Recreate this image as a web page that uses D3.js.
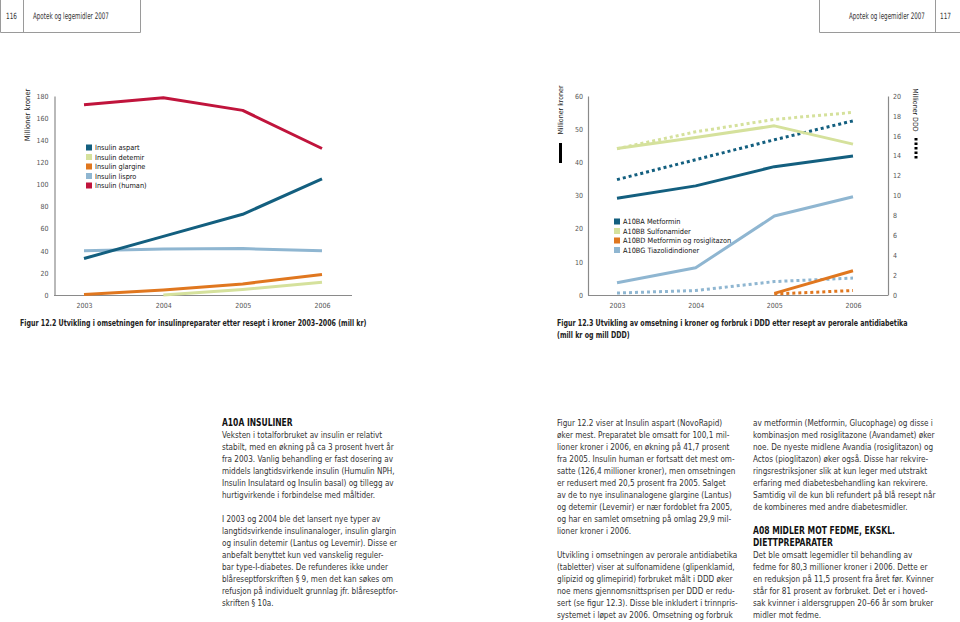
<!DOCTYPE html>
<html><head><meta charset="utf-8">
<script src="https://cdn.jsdelivr.net/npm/d3@7"></script>
<style>
body{margin:0;background:#fff;}
svg{display:block;}
text{font-family:"DejaVu Sans Condensed","DejaVu Sans",sans-serif;}
</style></head><body>
<svg id="c" width="960" height="622"></svg>
<script>
// ---------- DATA ----------
const years = [2003, 2004, 2005, 2006];

// Figur 12.2 (mill kr)
const insulinNames = ["Insulin aspart", "Insulin detemir", "Insulin glargine", "Insulin lispro", "Insulin (human)"];
const insulinAspart   = [33, 53, 73, 105];
const insulinDetemir  = [null, 0, 5, 11.5];
const insulinGlargine = [0.5, 4.5, 10, 18.5];
const insulinLispro   = [40, 41.5, 42, 40];
const insulinHuman    = [172, 178.5, 167, 132.5];
const insulinTicks = [0, 20, 40, 60, 80, 100, 120, 140, 160, 180];

// Figur 12.3 (mill kr solid, mill DDD dotted)
const oralNames = ["A10BA Metformin", "A10BB Sulfonamider", "A10BD Metformin og rosiglitazon", "A10BG Tiazolidindioner"];
const krMetformin     = [29.2, 32.9, 38.7, 41.9];
const krSulfonamider  = [44.2, 47.5, 51, 45.5];
const krMetRosi       = [null, null, 0.5, 7.3];
const krTiazo         = [3.7, 8.2, 23.8, 29.6];
const dddMetformin    = [11.6, 13.6, 15.6, 17.5];
const dddSulfonamider = [14.7, 16.4, 17.65, 18.35];
const dddMetRosi      = [null, null, 0.1, 0.45];
const dddTiazo        = [0.2, 0.45, 1.35, 1.7];
const krTicks  = [0, 10, 20, 30, 40, 50, 60];
const dddTicks = [0, 2, 4, 6, 8, 10, 12, 14, 16, 18, 20];

// ---------- STYLE ----------
const C = {teal:"#135f7f", pale:"#d5e19c", orange:"#e0771f", blue:"#8fb6d1", red:"#c0143c"};
const axisCol = "#8a8a8a", tickCol = "#555";

const svg = d3.select("#c");

// squeeze a group horizontally so its widest text equals maxW (condensed typeface look)
function fitGroup(g, x0, maxW) {
  let w = 0;
  g.selectAll("text").each(function(){ w = Math.max(w, this.getComputedTextLength()); });
  const k = w > 0 ? maxW / w : 1;
  g.attr("transform", `translate(${x0},0) scale(${k},1) translate(${-x0},0)`);
}

// ---------- HEADER ----------
const hdr = svg.append("g").attr("stroke", "#9a9a9a").attr("stroke-width", 1).attr("fill", "none");
hdr.append("path").attr("d", "M0.5,0V32.5H140.5V0M23.5,0V32.5");
hdr.append("path").attr("d", "M819.5,0V32.5H960M935.5,0V32.5");
const p1 = svg.append("g").attr("font-size", 8.5).attr("fill", "#333");
p1.append("text").attr("x", 6).attr("y", 19).text("116");
fitGroup(p1, 6, 11);
const p2 = svg.append("g").attr("font-size", 8.5).attr("fill", "#333");
p2.append("text").attr("x", 940).attr("y", 19).text("117");
fitGroup(p2, 940, 11);
const h1 = svg.append("g").attr("font-size", 9).attr("fill", "#333");
h1.append("text").attr("x", 33).attr("y", 19).text("Apotek og legemidler 2007");
fitGroup(h1, 33, 76);
const h2 = svg.append("g").attr("font-size", 9).attr("fill", "#333");
h2.append("text").attr("x", 849).attr("y", 19).text("Apotek og legemidler 2007");
fitGroup(h2, 849, 76);

function styleAxis(g){
  g.selectAll(".domain").attr("stroke", axisCol).attr("stroke-width", 1.2);
  g.selectAll("text").attr("font-size", 7).attr("fill", tickCol).attr("font-family", "'DejaVu Sans Condensed',sans-serif");
}

// ---------- CHART 1 ----------
{
  const x = d3.scaleLinear().domain([2003, 2006]).range([84, 322]);
  const y = d3.scaleLinear().domain([0, 180]).range([295, 96]);
  const g = svg.append("g");
  g.append("g").attr("transform", "translate(54.5,0)")
    .call(d3.axisLeft(y).tickValues(insulinTicks).tickSize(0).tickPadding(6))
    .call(styleAxis);
  g.append("line").attr("x1", 54).attr("x2", 352).attr("y1", y(0) + 0.5).attr("y2", y(0) + 0.5)
    .attr("stroke", axisCol).attr("stroke-width", 1.2);
  g.append("g").attr("transform", `translate(0,${y(0)})`)
    .call(d3.axisBottom(x).tickValues(years).tickFormat(d3.format("d")).tickSize(0).tickPadding(8))
    .call(g2 => g2.select(".domain").remove())
    .call(styleAxis);
  g.append("text").attr("transform", "translate(30,115) rotate(-90)").attr("text-anchor", "middle")
    .attr("font-size", 7.5).attr("fill", "#222").text("Millioner kroner");

  const series = [
    {v: insulinLispro, c: C.blue},
    {v: insulinDetemir, c: C.pale},
    {v: insulinGlargine, c: C.orange},
    {v: insulinAspart, c: C.teal},
    {v: insulinHuman, c: C.red}
  ];
  const line = d3.line().defined(d => d[1] != null).x(d => x(d[0])).y(d => y(d[1]));
  series.forEach(s => {
    g.append("path").attr("d", line(years.map((yr, i) => [yr, s.v[i]])))
      .attr("fill", "none").attr("stroke", s.c).attr("stroke-width", 3).attr("stroke-linejoin", "round");
  });
  const legCols = [C.teal, C.pale, C.orange, C.blue, C.red];
  const lg = g.append("g");
  insulinNames.forEach((n, i) => {
    const yy = 147.5 + i * 9.5;
    lg.append("rect").attr("x", 86).attr("y", yy - 3).attr("width", 6).attr("height", 6).attr("fill", legCols[i]);
    lg.append("text").attr("x", 95).attr("y", yy + 2.5).attr("font-size", 7.3).attr("fill", "#111").text(n);
  });
  const cg = svg.append("g").attr("font-size", 9).attr("font-weight", "bold").attr("fill", "#222");
  cg.append("text").attr("x", 20).attr("y", 326)
    .text("Figur 12.2 Utvikling i omsetningen for insulinpreparater etter resept i kroner 2003–2006 (mill kr)");
  fitGroup(cg, 20, 347);
}

// ---------- CHART 2 ----------
{
  const x = d3.scaleLinear().domain([2003, 2006]).range([617, 853]);
  const yL = d3.scaleLinear().domain([0, 60]).range([295, 96]);
  const yR = d3.scaleLinear().domain([0, 20]).range([295, 96]);
  const g = svg.append("g");
  g.append("g").attr("transform", "translate(588,0)")
    .call(d3.axisLeft(yL).tickValues(krTicks).tickSize(0).tickPadding(5))
    .call(styleAxis);
  g.append("g").attr("transform", "translate(888,0)")
    .call(d3.axisRight(yR).tickValues(dddTicks).tickSize(0).tickPadding(5))
    .call(styleAxis);
  g.append("line").attr("x1", 588).attr("x2", 888).attr("y1", yL(0) + 0.5).attr("y2", yL(0) + 0.5)
    .attr("stroke", axisCol).attr("stroke-width", 1.2);
  g.append("g").attr("transform", `translate(0,${yL(0)})`)
    .call(d3.axisBottom(x).tickValues(years).tickFormat(d3.format("d")).tickSize(0).tickPadding(8))
    .call(g2 => g2.select(".domain").remove())
    .call(styleAxis);
  g.append("text").attr("transform", "translate(563,110) rotate(-90)").attr("text-anchor", "middle")
    .attr("font-size", 7).attr("fill", "#222").text("Millioner kroner");
  g.append("line").attr("x1", 560.5).attr("x2", 560.5).attr("y1", 143).attr("y2", 163).attr("stroke", "#000").attr("stroke-width", 3);
  g.append("text").attr("transform", "translate(913,110) rotate(90)").attr("text-anchor", "middle")
    .attr("font-size", 7).attr("fill", "#222").text("Millioner DDD");
  g.append("line").attr("x1", 916).attr("x2", 916).attr("y1", 138).attr("y2", 160).attr("stroke", "#000")
    .attr("stroke-width", 3).attr("stroke-dasharray", "2.5,2");

  const line = sc => d3.line().defined(d => d[1] != null).x(d => x(d[0])).y(d => sc(d[1]));
  const solid = [
    {v: krTiazo, c: C.blue}, {v: krMetRosi, c: C.orange}, {v: krSulfonamider, c: C.pale}, {v: krMetformin, c: C.teal}
  ];
  const dotted = [
    {v: dddTiazo, c: C.blue}, {v: dddMetRosi, c: C.orange}, {v: dddSulfonamider, c: C.pale}, {v: dddMetformin, c: C.teal}
  ];
  dotted.forEach(s => {
    g.append("path").attr("d", line(yR)(years.map((yr, i) => [yr, s.v[i]])))
      .attr("fill", "none").attr("stroke", s.c).attr("stroke-width", 3).attr("stroke-dasharray", "3,3");
  });
  solid.forEach(s => {
    g.append("path").attr("d", line(yL)(years.map((yr, i) => [yr, s.v[i]])))
      .attr("fill", "none").attr("stroke", s.c).attr("stroke-width", 3).attr("stroke-linejoin", "round");
  });
  const legCols = [C.teal, C.pale, C.orange, C.blue];
  oralNames.forEach((n, i) => {
    const yy = 221.5 + i * 9.5;
    g.append("rect").attr("x", 614).attr("y", yy - 3).attr("width", 6).attr("height", 6).attr("fill", legCols[i]);
    g.append("text").attr("x", 623).attr("y", yy + 2.5).attr("font-size", 7.3).attr("fill", "#111").text(n);
  });
  const cg = svg.append("g").attr("font-size", 9).attr("font-weight", "bold").attr("fill", "#222");
  cg.append("text").attr("x", 557).attr("y", 326).text("Figur 12.3 Utvikling av omsetning i kroner og forbruk i DDD etter resept av perorale antidiabetika");
  cg.append("text").attr("x", 557).attr("y", 338).text("(mill kr og mill DDD)");
  fitGroup(cg, 557, 351);
}

// ---------- BODY TEXT ----------
const col1 = [
  ["h", "A10A INSULINER"],
  ["p", "Veksten i totalforbruket av insulin er relativt"],
  ["p", "stabilt, med en økning på ca 3 prosent hvert år"],
  ["p", "fra 2003. Vanlig behandling er fast dosering av"],
  ["p", "middels langtidsvirkende insulin (Humulin NPH,"],
  ["p", "Insulin Insulatard og Insulin basal) og tillegg av"],
  ["p", "hurtigvirkende i forbindelse med måltider."],
  ["p", ""],
  ["p", "I 2003 og 2004 ble det lansert nye typer av"],
  ["p", "langtidsvirkende insulinanaloger, insulin glargin"],
  ["p", "og insulin detemir (Lantus og Levemir). Disse er"],
  ["p", "anbefalt benyttet kun ved vanskelig reguler-"],
  ["p", "bar type-I-diabetes. De refunderes ikke under"],
  ["p", "blåreseptforskriften § 9, men det kan søkes om"],
  ["p", "refusjon på individuelt grunnlag jfr. blåreseptfor-"],
  ["p", "skriften § 10a."]
];
const col2 = [
  ["p", "Figur 12.2 viser at Insulin aspart (NovoRapid)"],
  ["p", "øker mest. Preparatet ble omsatt for 100,1 mil-"],
  ["p", "lioner kroner i 2006, en økning på 41,7 prosent"],
  ["p", "fra 2005. Insulin human er fortsatt det mest om-"],
  ["p", "satte (126,4 millioner kroner), men omsetningen"],
  ["p", "er redusert med 20,5 prosent fra 2005. Salget"],
  ["p", "av de to nye insulinanalogene glargine (Lantus)"],
  ["p", "og detemir (Levemir) er nær fordoblet fra 2005,"],
  ["p", "og har en samlet omsetning på omlag 29,9 mil-"],
  ["p", "lioner kroner i 2006."],
  ["p", ""],
  ["p", "Utvikling i omsetningen av perorale antidiabetika"],
  ["p", "(tabletter) viser at sulfonamidene (glipenklamid,"],
  ["p", "glipizid og glimepirid) forbruket målt i DDD øker"],
  ["p", "noe mens gjennomsnittsprisen per DDD er redu-"],
  ["p", "sert (se figur 12.3). Disse ble inkludert i trinnpris-"],
  ["p", "systemet i løpet av 2006. Omsetning og forbruk"]
];
const col3 = [
  ["p", "av metformin (Metformin, Glucophage) og disse i"],
  ["p", "kombinasjon med rosiglitazone (Avandamet) øker"],
  ["p", "noe. De nyeste midlene Avandia (rosiglitazon) og"],
  ["p", "Actos (pioglitazon) øker også. Disse har rekvire-"],
  ["p", "ringsrestriksjoner slik at kun leger med utstrakt"],
  ["p", "erfaring med diabetesbehandling kan rekvirere."],
  ["p", "Samtidig vil de kun bli refundert på blå resept når"],
  ["p", "de kombineres med andre diabetesmidler."],
  ["p", ""],
  ["h", "A08 MIDLER MOT FEDME, EKSKL."],
  ["h", "DIETTPREPARATER"],
  ["p", "Det ble omsatt legemidler til behandling av"],
  ["p", "fedme for 80,3 millioner kroner i 2006. Dette er"],
  ["p", "en reduksjon på 11,5 prosent fra året før. Kvinner"],
  ["p", "står for 81 prosent av forbruket. Det er i hoved-"],
  ["p", "sak kvinner i aldersgruppen 20–66 år som bruker"],
  ["p", "midler mot fedme."]
];
function column(lines, x0, maxW) {
  const g = svg.append("g");
  g.selectAll("text").data(lines).join("text")
    .attr("x", x0).attr("y", (d, i) => 426 + i * 12)
    .attr("font-size", d => d[0] === "h" ? 10 : 9.6)
    .attr("font-weight", d => d[0] === "h" ? "bold" : "normal")
    .attr("fill", d => d[0] === "h" ? "#111" : "#333")
    .text(d => d[1]);
  fitGroup(g, x0, maxW);
}
column(col1, 222, 176);
column(col2, 557, 181);
column(col3, 753, 183);
</script>
</body></html>
